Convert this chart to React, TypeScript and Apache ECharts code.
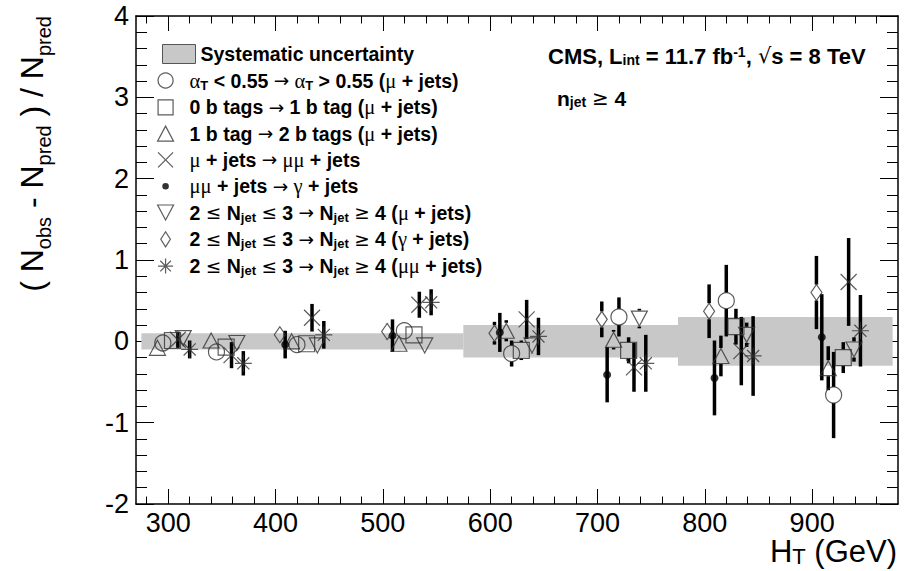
import React, { useEffect, useRef } from "react";
import * as echarts from "echarts";

// ---------------- data ----------------
const bandLow = [275, 575, 775];
const bandHigh = [575, 775, 975];
const bandHalf = [0.1, 0.2, 0.3];

const xMajorTicks = [300, 400, 500, 600, 700, 800, 900];
const xMinorTicks = [280, 300, 320, 340, 360, 380, 400, 420, 440, 460, 480, 500, 520, 540, 560, 580, 600, 620, 640, 660, 680, 700, 720, 740, 760, 780, 800, 820, 840, 860, 880, 900, 920, 940, 960];

const circleX = [295, 345, 420, 520, 620, 720, 820, 920];
const circleY = [-0.02, -0.13, -0.04, 0.13, -0.15, 0.3, 0.5, -0.66];
const circleErr = [0.06, 0.06, 0.08, 0.1, 0.16, 0.24, 0.44, 0.53];

const squareX = [304, 354, 429, 529, 629, 729, 829, 929];
const squareY = [0.01, -0.07, -0.03, 0.08, -0.11, -0.11, 0.18, -0.2];
const squareErr = [0.05, 0.06, 0.07, 0.08, 0.12, 0.16, 0.22, 0.19];

const triangleX = [290, 340, 415, 515, 615, 715, 815, 915];
const triangleY = [-0.08, 0.01, 0.0, -0.03, 0.13, 0.02, -0.18, -0.33];
const triangleErr = [0.06, 0.06, 0.08, 0.1, 0.13, 0.12, 0.25, 0.27];

const crossX = [309, 359, 434, 534, 634, 734, 834, 934];
const crossY = [0.02, -0.17, 0.29, 0.45, 0.27, -0.32, -0.12, 0.73];
const crossErr = [0.1, 0.16, 0.17, 0.16, 0.24, 0.3, 0.42, 0.54];

const dotX = [409, 509, 609, 709, 809, 909];
const dotY = [-0.04, 0.07, 0.11, -0.41, -0.45, 0.05];
const dotErr = [0.17, 0.2, 0.24, 0.34, 0.46, 0.53];

const downX = [314, 364, 439, 539, 639, 739, 839, 939];
const downY = [0.04, -0.02, -0.05, -0.05, -0.05, 0.28, 0.08, -0.1];
const downErr = [0.05, 0.06, 0.07, 0.08, 0.1, 0.12, 0.15, 0.15];

const diamondX = [404, 504, 604, 704, 804, 904];
const diamondY = [0.08, 0.12, 0.1, 0.27, 0.37, 0.6];
const diamondErr = [0.08, 0.1, 0.14, 0.22, 0.33, 0.45];

const starX = [320, 370, 445, 545, 645, 745, 845, 945];
const starY = [-0.1, -0.27, 0.08, 0.48, 0.06, -0.27, -0.18, 0.13];
const starErr = [0.11, 0.15, 0.17, 0.16, 0.23, 0.35, 0.49, 0.44];

const bandName = "Systematic uncertainty";
const seriesNames = [
  "αT < 0.55 → αT > 0.55 (μ + jets)",
  "0 b tags → 1 b tag (μ + jets)",
  "1 b tag → 2 b tags (μ + jets)",
  "μ + jets → μμ + jets",
  "μμ + jets → γ + jets",
  "2 ≤ Njet ≤ 3 → Njet ≥ 4 (μ + jets)",
  "2 ≤ Njet ≤ 3 → Njet ≥ 4 (γ + jets)",
  "2 ≤ Njet ≤ 3 → Njet ≥ 4 (μμ + jets)",
];
const legendRich: Record<string, string> = {
  [seriesNames[0]]: "{g|α}{s|T}{b| < 0.55 }{a|→}{g| α}{s|T}{b| > 0.55 (}{g|μ}{b| + jets)}",
  [seriesNames[1]]: "{b|0 b tags }{a|→}{b| 1 b tag (}{g|μ}{b| + jets)}",
  [seriesNames[2]]: "{b|1 b tag }{a|→}{b| 2 b tags (}{g|μ}{b| + jets)}",
  [seriesNames[3]]: "{g|μ}{b| + jets }{a|→}{g| μμ}{b| + jets}",
  [seriesNames[4]]: "{g|μμ}{b| + jets }{a|→}{g| γ}{b| + jets}",
  [seriesNames[5]]: "{b|2 }{a|≤}{b| N}{s|jet}{b| }{a|≤}{b| 3 }{a|→}{b| N}{s|jet}{b| }{a|≥}{b| 4 (}{g|μ}{b| + jets)}",
  [seriesNames[6]]: "{b|2 }{a|≤}{b| N}{s|jet}{b| }{a|≤}{b| 3 }{a|→}{b| N}{s|jet}{b| }{a|≥}{b| 4 (}{g|γ}{b| + jets)}",
  [seriesNames[7]]: "{b|2 }{a|≤}{b| N}{s|jet}{b| }{a|≤}{b| 3 }{a|→}{b| N}{s|jet}{b| }{a|≥}{b| 4 (}{g|μμ}{b| + jets)}",
};

// ---------------- styles ----------------
const SANS = "Liberation Sans, Arial, Helvetica, sans-serif";
const SERIF = "Liberation Serif, DejaVu Serif, serif";
const SYM = "DejaVu Sans, sans-serif";
const INK = "#333";

const P_SQUARE = "path://M0,0L10,0L10,10L0,10Z";
const P_TRI = "path://M5,0L10,9.4L0,9.4Z";
const P_DOWN = "path://M0,0L10,0L5,9.4Z";
const P_DIAMOND = "path://M3.2,0L6.4,5L3.2,10L0,5Z";
const P_CROSS = "path://M0,0L10,10M10,0L0,10";
const P_STAR = "path://M5,0L5,10M0,5L10,5M1.46,1.46L8.54,8.54M8.54,1.46L1.46,8.54";
const P_DOT = "path://M0,0M16,16M4.5,8A3.5,3.5,0,1,1,11.5,8A3.5,3.5,0,1,1,4.5,8Z";

type Spec = {
  name: string; xs: number[]; ys: number[]; es: number[];
  symbol: string; size: number | number[]; legendIcon: string;
  filled?: boolean; gap: number;
};

const specs: Spec[] = [
  { name: seriesNames[0], xs: circleX, ys: circleY, es: circleErr, symbol: "circle", size: 16, legendIcon: "circle", gap: 8 },
  { name: seriesNames[1], xs: squareX, ys: squareY, es: squareErr, symbol: P_SQUARE, size: 16, legendIcon: P_SQUARE, gap: 8 },
  { name: seriesNames[2], xs: triangleX, ys: triangleY, es: triangleErr, symbol: P_TRI, size: [16, 15], legendIcon: P_TRI, gap: 8 },
  { name: seriesNames[3], xs: crossX, ys: crossY, es: crossErr, symbol: P_CROSS, size: 16, legendIcon: P_CROSS, gap: 0 },
  { name: seriesNames[4], xs: dotX, ys: dotY, es: dotErr, symbol: "circle", size: 8, legendIcon: P_DOT, filled: true, gap: 0 },
  { name: seriesNames[5], xs: downX, ys: downY, es: downErr, symbol: P_DOWN, size: [16, 15], legendIcon: P_DOWN, gap: 8 },
  { name: seriesNames[6], xs: diamondX, ys: diamondY, es: diamondErr, symbol: P_DIAMOND, size: [11, 16], legendIcon: P_DIAMOND, gap: 8 },
  { name: seriesNames[7], xs: starX, ys: starY, es: starErr, symbol: P_STAR, size: 17, legendIcon: P_STAR, gap: 0 },
];

const textRich = (size: number, sub: number) => ({
  b: { fontFamily: SANS, fontWeight: "bold", fontSize: size, color: "#000", lineHeight: 22 },
  g: { fontFamily: SERIF, fontWeight: "normal", fontSize: size + 1, color: "#000", lineHeight: 22 },
  a: { fontFamily: SYM, fontWeight: "normal", fontSize: size - 1, color: "#000", lineHeight: 22 },
  s: { fontFamily: SANS, fontWeight: "bold", fontSize: sub, color: "#000", lineHeight: 8, verticalAlign: "bottom" },
  p: { fontFamily: SANS, fontWeight: "bold", fontSize: sub, color: "#000", lineHeight: 8, verticalAlign: "top" },
});

function buildOption(): any {
  const xAxisBase = (position: string, major: boolean, showLine: boolean, showLabel: boolean) => ({
    type: "value",
    min: 270,
    max: 980,
    position,
    axisLine: { show: showLine, onZero: false, lineStyle: { color: "#000", width: 1.5 } },
    axisTick: {
      show: true,
      inside: true,
      length: major ? 15 : 7.5,
      customValues: major ? xMajorTicks : xMinorTicks,
      lineStyle: { color: "#000", width: 1 },
    },
    axisLabel: {
      show: showLabel,
      customValues: xMajorTicks,
      fontSize: 27,
      fontFamily: SANS,
      color: "#000",
      margin: 5,
    },
    splitLine: { show: false },
  });
  const yAxisBase = (position: string, showLabel: boolean) => ({
    type: "value",
    min: -2,
    max: 4,
    interval: 1,
    position,
    axisLine: { show: true, onZero: false, lineStyle: { color: "#000", width: 1.5 } },
    axisTick: { show: true, inside: true, length: 18, lineStyle: { color: "#000", width: 1 } },
    minorTick: { show: true, splitNumber: 5, length: 11, lineStyle: { color: "#000", width: 1 } },
    axisLabel: { show: showLabel, fontSize: 27, fontFamily: SANS, color: "#000", margin: 7 },
    splitLine: { show: false },
    minorSplitLine: { show: false },
  });

  const series: any[] = [
    {
      type: "custom",
      name: bandName,
      xAxisIndex: 0,
      yAxisIndex: 0,
      z: 1,
      silent: true,
      itemStyle: { color: "#c8c8c8" },
      encode: { x: [0, 1], y: 2 },
      data: bandLow.map((lo, i) => [lo, bandHigh[i], bandHalf[i]]),
      renderItem: (_p: any, api: any) => {
        const a = api.coord([api.value(0), api.value(2)]);
        const b = api.coord([api.value(1), -api.value(2)]);
        return {
          type: "rect",
          shape: { x: a[0], y: a[1], width: b[0] - a[0], height: b[1] - a[1] },
          style: { fill: "#c8c8c8" },
        };
      },
    },
  ];

  specs.forEach((sp) => {
    series.push({
      type: "custom",
      name: sp.name + " (errors)",
      xAxisIndex: 0,
      yAxisIndex: 0,
      z: 2,
      silent: true,
      encode: { x: 0, y: 1 },
      data: sp.xs.map((x, i) => [x, sp.ys[i], sp.es[i]]),
      renderItem: (_p: any, api: any) => {
        const x = api.value(0), y = api.value(1), e = api.value(2);
        const c = api.coord([x, y]);
        const t = api.coord([x, y + e]);
        const b = api.coord([x, y - e]);
        const st = { stroke: "#000", lineWidth: 3.5 };
        const children: any[] = [];
        if (sp.gap > 0) {
          if (c[1] - sp.gap > t[1]) children.push({ type: "line", shape: { x1: c[0], y1: t[1], x2: c[0], y2: c[1] - sp.gap }, style: st });
          if (b[1] > c[1] + sp.gap) children.push({ type: "line", shape: { x1: c[0], y1: c[1] + sp.gap, x2: c[0], y2: b[1] }, style: st });
        } else {
          children.push({ type: "line", shape: { x1: c[0], y1: t[1], x2: c[0], y2: b[1] }, style: st });
        }
        return { type: "group", children };
      },
    });
    series.push({
      type: "scatter",
      name: sp.name,
      xAxisIndex: 0,
      yAxisIndex: 0,
      z: 3,
      symbol: sp.symbol,
      symbolSize: sp.size,
      itemStyle: sp.filled
        ? { color: "#000", borderWidth: 0 }
        : { color: "rgba(0,0,0,0)", borderColor: INK, borderWidth: 1.2 },
      emphasis: { disabled: true },
      data: sp.xs.map((x, i) => [x, sp.ys[i]]),
    });
  });

  const richTitle = (main: number, sub: number, mainLH: number, subLH: number) => ({
    m: { fontFamily: SANS, fontSize: main, color: "#000", lineHeight: mainLH },
    s: { fontFamily: SANS, fontSize: sub, color: "#000", lineHeight: subLH, verticalAlign: "bottom" },
  });

  return {
    animation: false,
    backgroundColor: "#fff",
    grid: { left: 136, right: 6, top: 16, bottom: 67, containLabel: false },
    xAxis: [
      xAxisBase("bottom", true, true, true),
      xAxisBase("bottom", false, false, false),
      xAxisBase("top", true, true, false),
      xAxisBase("top", false, false, false),
    ],
    yAxis: [yAxisBase("left", true), yAxisBase("right", false)],
    legend: [
      {
        data: [{ name: bandName, icon: "rect", itemStyle: { color: "#c8c8c8", borderColor: "#555", borderWidth: 1 } }],
        orient: "vertical",
        left: 162,
        top: 44,
        padding: 0,
        itemWidth: 33,
        itemHeight: 19,
        selectedMode: false,
        textStyle: { fontFamily: SANS, fontWeight: "bold", fontSize: 19.5, color: "#000" },
      },
      {
        data: specs.map((sp) => ({
          name: sp.name,
          icon: sp.legendIcon,
          itemStyle: sp.filled
            ? { color: "#000", borderWidth: 0 }
            : { color: "rgba(0,0,0,0)", borderColor: INK, borderWidth: 1.2 },
        })),
        orient: "vertical",
        left: 157,
        top: 70,
        padding: 0,
        itemGap: 5.3,
        itemWidth: 38,
        itemHeight: 15,
        selectedMode: false,
        formatter: (name: string) => legendRich[name] || name,
        textStyle: { color: "#000", rich: textRich(19.5, 13) },
      },
    ],
    graphic: [
      {
        type: "text",
        x: 548,
        y: 56,
        silent: true,
        style: {
          text: "{b|CMS, L}{s|int}{b| = 11.7 fb}{p|-1}{b|, }{a|√}{b|s = 8 TeV}",
          verticalAlign: "middle",
          rich: textRich(22, 14),
        },
      },
      {
        type: "text",
        x: 557,
        y: 98,
        silent: true,
        style: {
          text: "{b|n}{s|jet}{b| }{a|≥}{b| 4}",
          verticalAlign: "middle",
          rich: textRich(21, 14),
        },
      },
      {
        type: "text",
        x: 897,
        y: 551,
        silent: true,
        style: {
          text: "{m|H}{s|T}{m| (GeV)}",
          align: "right",
          verticalAlign: "middle",
          rich: richTitle(31, 22, 32, 12),
        },
      },
      {
        type: "text",
        x: 32,
        y: 16,
        rotation: Math.PI / 2,
        silent: true,
        style: {
          text: "{m|( N}{s|obs}{m| - N}{s|pred}{m| ) / N}{s|pred}",
          align: "right",
          verticalAlign: "middle",
          rich: richTitle(32, 20, 44, 8),
        },
      },
    ],
    series,
  };
}

export default function App() {
  const ref = useRef<HTMLDivElement>(null);
  useEffect(() => {
    if (!ref.current) return;
    const chart = echarts.init(ref.current, undefined, { renderer: "svg" });
    chart.setOption(buildOption());
    return () => chart.dispose();
  }, []);
  return (
    <div
      ref={ref}
      style={{ position: "absolute", left: 0, top: 0, width: 904, height: 571, background: "#fff" }}
    />
  );
}
